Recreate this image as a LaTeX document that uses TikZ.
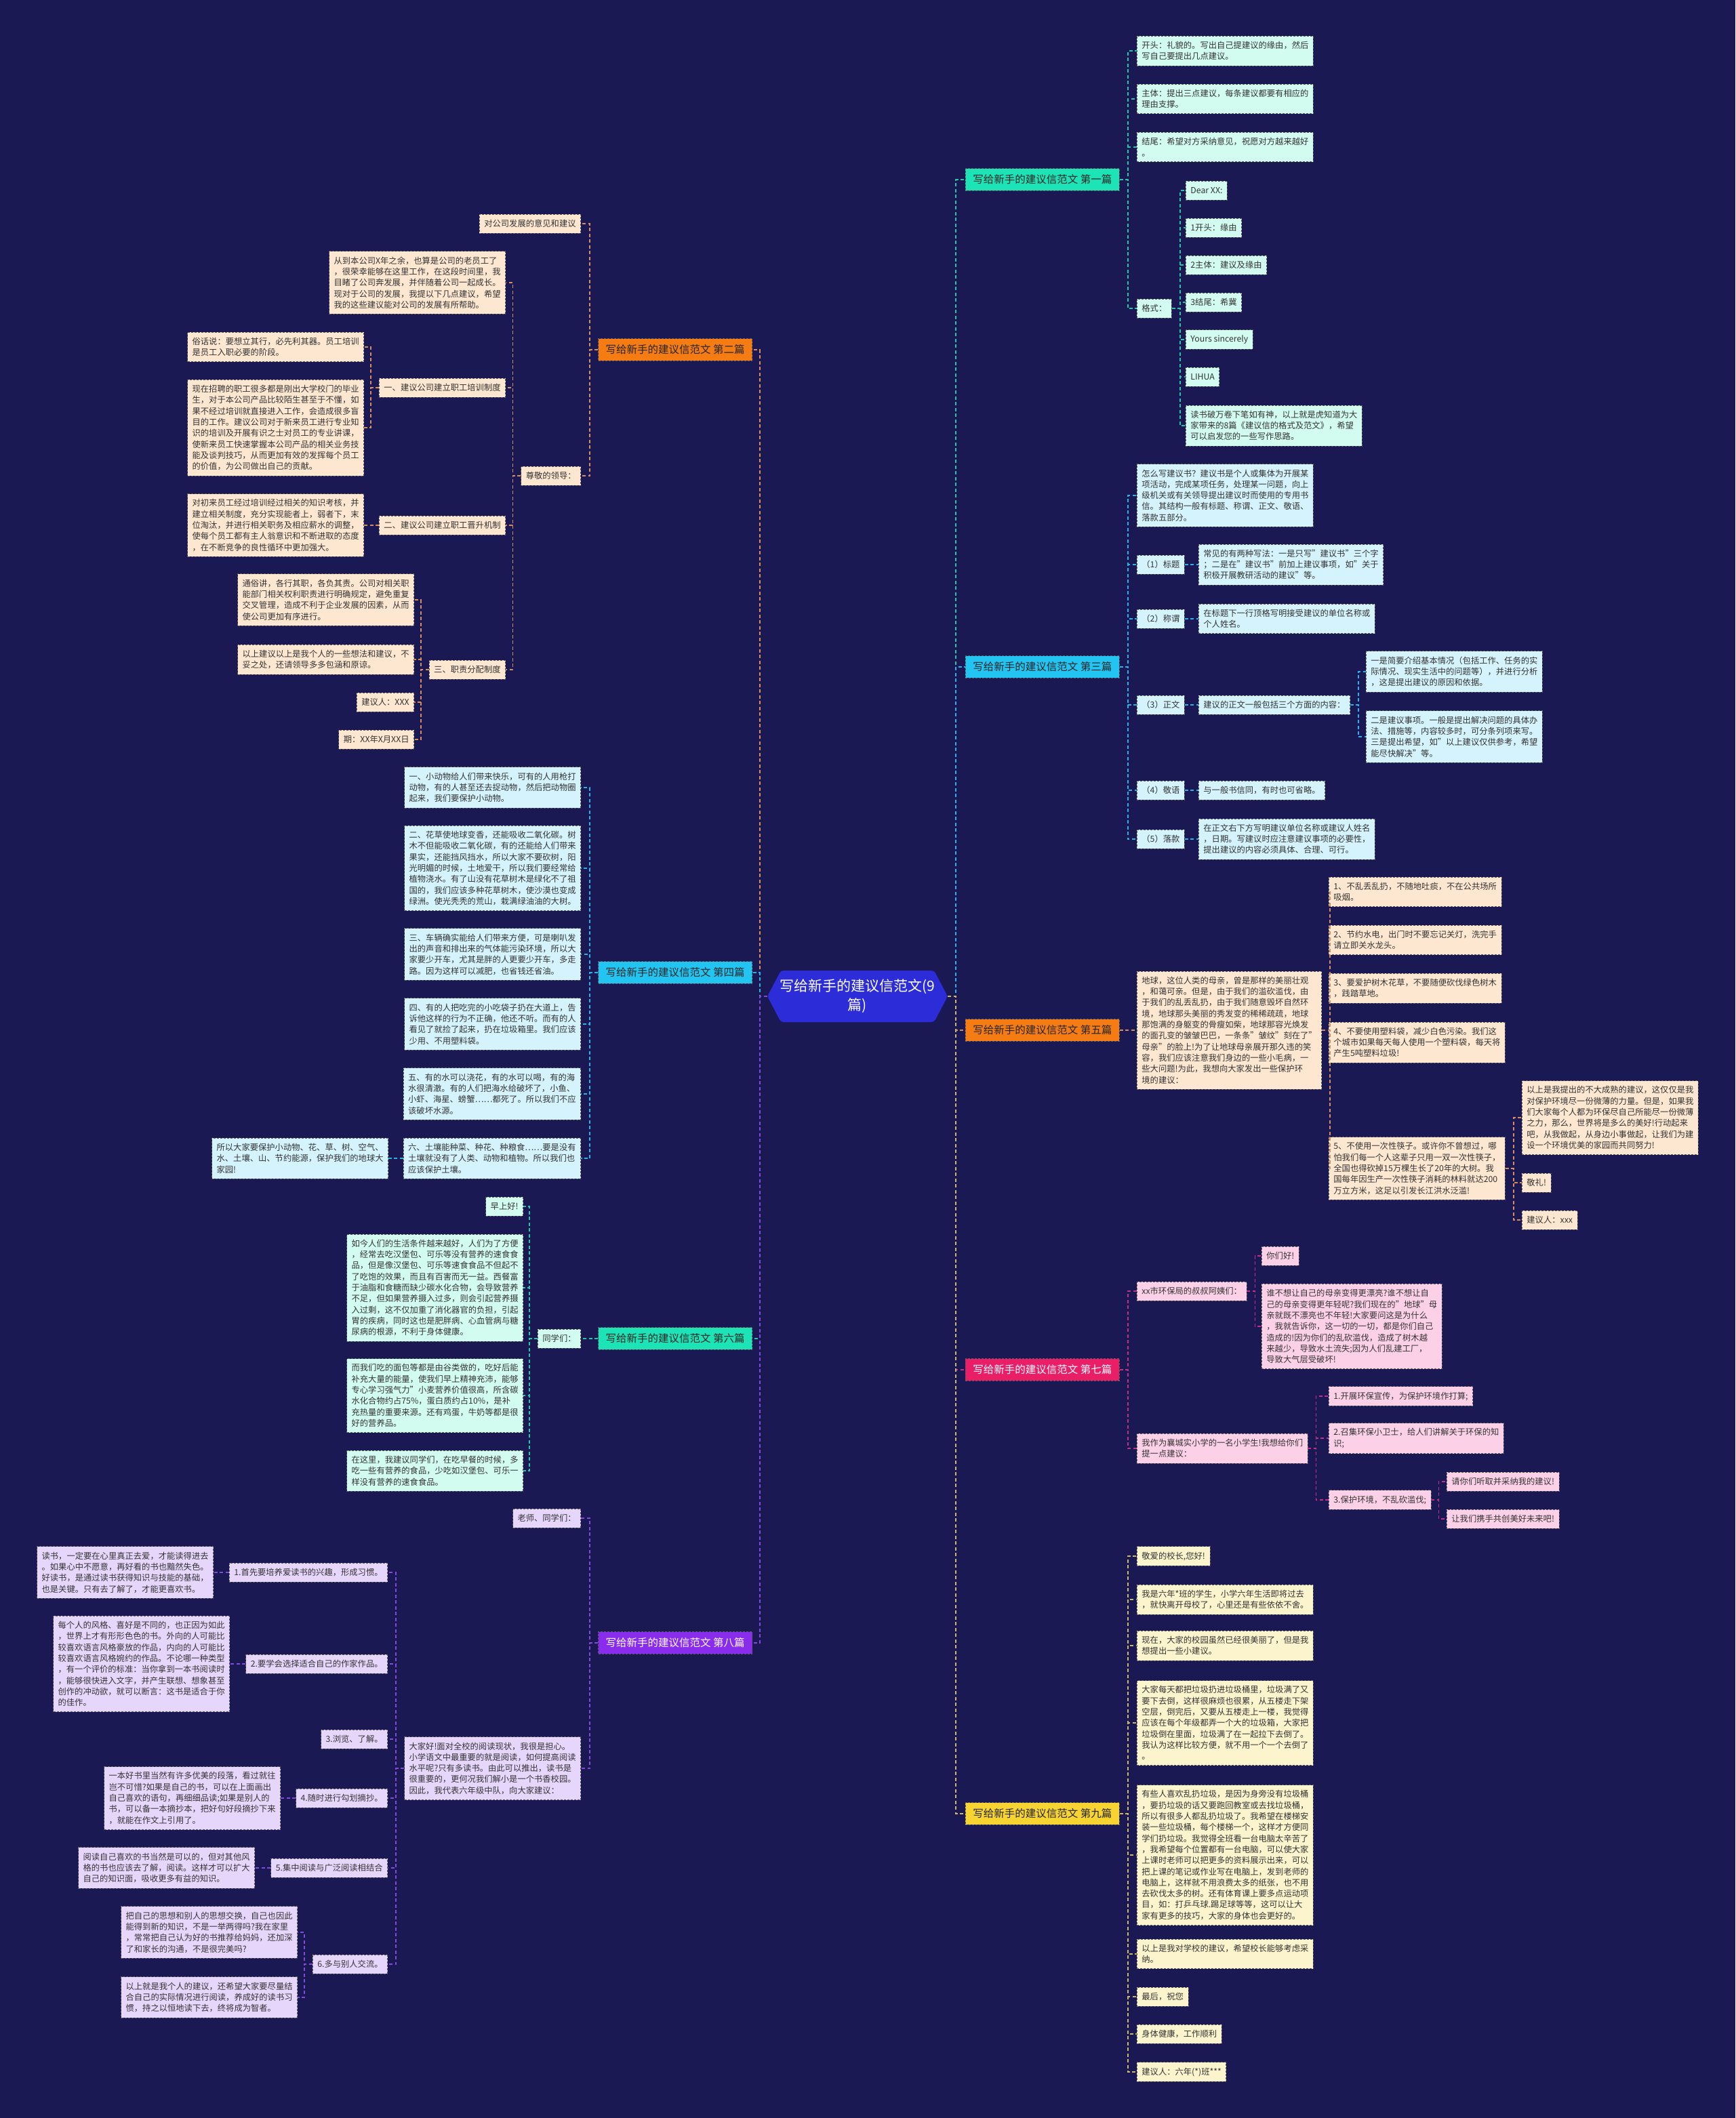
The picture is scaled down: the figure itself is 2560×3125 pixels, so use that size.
\documentclass[tikz,border=0pt]{standalone}
\usepackage{fontspec}
\setmainfont{Noto Sans CJK SC}
\definecolor{bgc}{HTML}{1B1953}
\definecolor{rootc}{HTML}{2C2CD8}
\definecolor{tealB}{HTML}{1DE4B6}\definecolor{tealL}{HTML}{D3FCF1}\definecolor{tealC}{HTML}{25C7A5}
\definecolor{cyanB}{HTML}{22C4F2}\definecolor{cyanL}{HTML}{D4F3FC}\definecolor{cyanC}{HTML}{2CB2EA}
\definecolor{orangeB}{HTML}{F47C12}\definecolor{orangeL}{HTML}{FDE7D1}\definecolor{orangeC}{HTML}{D98C5C}
\definecolor{pinkB}{HTML}{E91E66}\definecolor{pinkL}{HTML}{FCD1E7}\definecolor{pinkC}{HTML}{C23284}
\definecolor{yellowB}{HTML}{F7D432}\definecolor{yellowL}{HTML}{FCF4CD}\definecolor{yellowC}{HTML}{CDB866}
\definecolor{violetB}{HTML}{8A2CEE}\definecolor{violetL}{HTML}{E7D6FC}\definecolor{violetC}{HTML}{8548DC}
\definecolor{boxline}{HTML}{5C5C5C}
\definecolor{leaftext}{HTML}{333333}
\definecolor{branchtext}{HTML}{262626}
\newcommand\leaffont{\fontsize{12.3}{16.3}\selectfont}
\newcommand\branchfont{\fontsize{15.5}{19}\selectfont}
\newcommand\rootfont{\fontsize{21}{28}\selectfont}
\tikzset{
  leafbox/.style={draw=boxline, dash pattern=on 3pt off 2pt, line width=0.8pt, fill=#1, text=leaftext, font=\leaffont, align=left, inner xsep=7pt, inner ysep=8pt, minimum height=28pt},
  branchbox/.style={draw=boxline, dash pattern=on 3pt off 2pt, line width=0.8pt, fill=#1, text=branchtext, font=\branchfont, inner xsep=11pt, inner ysep=9pt},
  linkline/.style={draw=#1, line width=1.7pt, dash pattern=on 5pt off 3.5pt},
  R/.style={anchor=west}, L/.style={anchor=east}
}
\begin{document}
\begin{tikzpicture}[x=1pt, y=-1pt]
\useasboundingbox (0,0) rectangle (2560,3125);
\fill[bgc] (0,0) rectangle (2560,3125);
% centre
\fill[rootc, rounded corners=4pt] (1132,1470) -- (1152,1432) -- (1378,1432) -- (1398,1470) -- (1378,1508) -- (1152,1508) -- cycle;
\node[text=white, font=\rootfont, align=center, minimum width=266pt, minimum height=76pt, inner sep=0pt] (root) at (1265,1470) {写给新手的建议信范文(9\\篇)};

% ---- right: 第一篇
\node[branchbox=tealB, R] (b1) at (1424,265) {写给新手的建议信范文 第一篇};
\node[leafbox=tealL, R] (b1a) at (1677,75) {开头：礼貌的。写出自己提建议的缘由，然后\\写自己要提出几点建议。};
\node[leafbox=tealL, R] (b1b) at (1677,146) {主体：提出三点建议，每条建议都要有相应的\\理由支撑。};
\node[leafbox=tealL, R] (b1c) at (1677,217) {结尾：希望对方采纳意见，祝愿对方越来越好\\。};
\node[leafbox=tealL, R] (b1d) at (1677,455) {格式：};
\node[leafbox=tealL, R] (b1d1) at (1749,281) {Dear XX:};
\node[leafbox=tealL, R] (b1d2) at (1749,336) {1开头：缘由};
\node[leafbox=tealL, R] (b1d3) at (1749,391) {2主体：建议及缘由};
\node[leafbox=tealL, R] (b1d4) at (1749,446) {3结尾：希冀};
\node[leafbox=tealL, R] (b1d5) at (1749,501) {Yours sincerely};
\node[leafbox=tealL, R] (b1d6) at (1749,556) {LIHUA};
\node[leafbox=tealL, R] (b1d7) at (1749,628) {读书破万卷下笔如有神，以上就是虎知道为大\\家带来的8篇《建议信的格式及范文》，希望\\可以启发您的一些写作思路。};

% ---- right: 第三篇
\node[branchbox=cyanB, R] (b3) at (1424,984) {写给新手的建议信范文 第三篇};
\node[leafbox=cyanL, R] (b3a) at (1677,731) {怎么写建议书？建议书是个人或集体为开展某\\项活动，完成某项任务，处理某一问题，向上\\级机关或有关领导提出建议时而使用的专用书\\信。其结构一般有标题、称谓、正文、敬语、\\落款五部分。};
\node[leafbox=cyanL, R] (b3b) at (1677,833) {（1）标题};
\node[leafbox=cyanL, R] (b3b1) at (1768,833) {常见的有两种写法：一是只写"建议书"三个字\\；二是在"建议书"前加上建议事项，如"关于\\积极开展教研活动的建议"等。};
\node[leafbox=cyanL, R] (b3c) at (1677,913) {（2）称谓};
\node[leafbox=cyanL, R] (b3c1) at (1768,913) {在标题下一行顶格写明接受建议的单位名称或\\个人姓名。};
\node[leafbox=cyanL, R] (b3d) at (1677,1040) {（3）正文};
\node[leafbox=cyanL, R] (b3d1) at (1768,1040) {建议的正文一般包括三个方面的内容：};
\node[leafbox=cyanL, R] (b3d1a) at (2015,991) {一是简要介绍基本情况（包括工作、任务的实\\际情况、现实生活中的问题等），并进行分析\\，这是提出建议的原因和依据。};
\node[leafbox=cyanL, R] (b3d1b) at (2015,1087) {二是建议事项。一般是提出解决问题的具体办\\法、措施等，内容较多时，可分条列项来写。\\三是提出希望，如"以上建议仅供参考，希望\\能尽快解决"等。};
\node[leafbox=cyanL, R] (b3e) at (1677,1166) {（4）敬语};
\node[leafbox=cyanL, R] (b3e1) at (1768,1166) {与一般书信同，有时也可省略。};
\node[leafbox=cyanL, R] (b3f) at (1677,1238) {（5）落款};
\node[leafbox=cyanL, R] (b3f1) at (1768,1238) {在正文右下方写明建议单位名称或建议人姓名\\，日期。写建议时应注意建议事项的必要性，\\提出建议的内容必须具体、合理、可行。};

% ---- right: 第五篇
\node[branchbox=orangeB, R] (b5) at (1424,1520) {写给新手的建议信范文 第五篇};
\node[leafbox=orangeL, R] (b5a) at (1677,1520) {地球，这位人类的母亲，曾是那样的美丽壮观\\，和蔼可亲。但是，由于我们的滥砍滥伐，由\\于我们的乱丢乱扔，由于我们随意毁坏自然环\\境，地球那头美丽的秀发变的稀稀疏疏，地球\\那饱满的身躯变的骨瘦如柴，地球那容光焕发\\的面孔变的皱皱巴巴，一条条"皱纹"刻在了"\\母亲"的脸上!为了让地球母亲展开那久违的笑\\容，我们应该注意我们身边的一些小毛病，一\\些大问题!为此，我想向大家发出一些保护环\\境的建议：};
\node[leafbox=orangeL, R] (b5a1) at (1960,1316) {1、不乱丢乱扔，不随地吐痰，不在公共场所\\吸烟。};
\node[leafbox=orangeL, R] (b5a2) at (1960,1387) {2、节约水电，出门时不要忘记关灯，洗完手\\请立即关水龙头。};
\node[leafbox=orangeL, R] (b5a3) at (1960,1458) {3、要爱护树木花草，不要随便砍伐绿色树木\\，践踏草地。};
\node[leafbox=orangeL, R] (b5a4) at (1960,1538) {4、不要使用塑料袋，减少白色污染。我们这\\个城市如果每天每人使用一个塑料袋，每天将\\产生5吨塑料垃圾!};
\node[leafbox=orangeL, R] (b5a5) at (1960,1724) {5、不使用一次性筷子。或许你不曾想过，哪\\怕我们每一个人这辈子只用一双一次性筷子，\\全国也得砍掉15万棵生长了20年的大树。我\\国每年因生产一次性筷子消耗的林料就达200\\万立方米，这足以引发长江洪水泛滥!};
\node[leafbox=orangeL, R] (b5e1) at (2245,1649) {以上是我提出的不大成熟的建议，这仅仅是我\\对保护环境尽一份微薄的力量。但是，如果我\\们大家每个人都为环保尽自己所能尽一份微薄\\之力，那么，世界将是多么的美好!行动起来\\吧，从我做起，从身边小事做起，让我们为建\\设一个环境优美的家园而共同努力!};
\node[leafbox=orangeL, R] (b5e2) at (2245,1745) {敬礼!};
\node[leafbox=orangeL, R] (b5e3) at (2245,1800) {建议人：xxx};

% ---- right: 第七篇
\node[branchbox=pinkB, R, text=white] (b7) at (1424,2021) {写给新手的建议信范文 第七篇};
\node[leafbox=pinkL, R] (b7a) at (1677,1905) {xx市环保局的叔叔阿姨们：};
\node[leafbox=pinkL, R] (b7a1) at (1861,1853) {你们好!};
\node[leafbox=pinkL, R] (b7a2) at (1861,1957) {谁不想让自己的母亲变得更漂亮?谁不想让自\\己的母亲变得更年轻呢?我们现在的"地球"母\\亲就既不漂亮也不年轻!大家要问这是为什么\\，我就告诉你，这一切的一切，都是你们自己\\造成的!因为你们的乱砍滥伐，造成了树木越\\来越少，导致水土流失;因为人们乱建工厂，\\导致大气层受破坏!};
\node[leafbox=pinkL, R] (b7b) at (1677,2137) {我作为襄城实小学的一名小学生!我想给你们\\提一点建议：};
\node[leafbox=pinkL, R] (b7b1) at (1960,2060) {1.开展环保宣传，为保护环境作打算;};
\node[leafbox=pinkL, R] (b7b2) at (1960,2122) {2.召集环保小卫士，给人们讲解关于环保的知\\识;};
\node[leafbox=pinkL, R] (b7b3) at (1960,2213) {3.保护环境，不乱砍滥伐;};
\node[leafbox=pinkL, R] (b7c1) at (2134,2186) {请你们听取并采纳我的建议!};
\node[leafbox=pinkL, R] (b7c2) at (2134,2241) {让我们携手共创美好未来吧!};

% ---- right: 第九篇
\node[branchbox=yellowB, R] (b9) at (1424,2676) {写给新手的建议信范文 第九篇};
\node[leafbox=yellowL, R] (b9a) at (1677,2296) {敬爱的校长,您好!};
\node[leafbox=yellowL, R] (b9b) at (1677,2360) {我是六年*班的学生，小学六年生活即将过去\\，就快离开母校了，心里还是有些依依不舍。};
\node[leafbox=yellowL, R] (b9c) at (1677,2428) {现在，大家的校园虽然已经很美丽了，但是我\\想提出一些小建议。};
\node[leafbox=yellowL, R] (b9d) at (1677,2542) {大家每天都把垃圾扔进垃圾桶里，垃圾满了又\\要下去倒，这样很麻烦也很累，从五楼走下架\\空层，倒完后，又要从五楼走上一楼，我觉得\\应该在每个年级都弄一个大的垃圾箱，大家把\\垃圾倒在里面，垃圾满了在一起拉下去倒了。\\我认为这样比较方便，就不用一个一个去倒了\\。};
\node[leafbox=yellowL, R] (b9e) at (1677,2737) {有些人喜欢乱扔垃圾，是因为身旁没有垃圾桶\\，要扔垃圾的话又要跑回教室或去找垃圾桶，\\所以有很多人都乱扔垃圾了。我希望在楼梯安\\装一些垃圾桶，每个楼梯一个，这样才方便同\\学们扔垃圾。我觉得全班看一台电脑太辛苦了\\，我希望每个位置都有一台电脑，可以使大家\\上课时老师可以把更多的资料展示出来，可以\\把上课的笔记或作业写在电脑上，发到老师的\\电脑上，这样就不用浪费太多的纸张，也不用\\去砍伐太多的树。还有体育课上要多点运动项\\目，如：打乒乓球.踢足球等等，这可以让大\\家有更多的技巧，大家的身体也会更好的。};
\node[leafbox=yellowL, R] (b9f) at (1677,2883) {以上是我对学校的建议，希望校长能够考虑采\\纳。};
\node[leafbox=yellowL, R] (b9g) at (1677,2946) {最后，祝您};
\node[leafbox=yellowL, R] (b9h) at (1677,3001) {身体健康，工作顺利};
\node[leafbox=yellowL, R] (b9i) at (1677,3057) {建议人：六年(*)班***};

% ---- left: 第二篇
\node[branchbox=orangeB, L] (b2) at (1110,516) {写给新手的建议信范文 第二篇};
\node[leafbox=orangeL, L] (b2a) at (857,330) {对公司发展的意见和建议};
\node[leafbox=orangeL, L] (b2b) at (857,702) {尊敬的领导：};
\node[leafbox=orangeL, L] (b2b1) at (746,417) {从到本公司X年之余，也算是公司的老员工了\\，很荣幸能够在这里工作，在这段时间里，我\\目睹了公司奔发展，并伴随着公司一起成长。\\现对于公司的发展，我提以下几点建议，希望\\我的这些建议能对公司的发展有所帮助。};
\node[leafbox=orangeL, L] (b2b2) at (746,572) {一、建议公司建立职工培训制度};
\node[leafbox=orangeL, L] (b2c1) at (537,512) {俗话说：要想立其行，必先利其器。员工培训\\是员工入职必要的阶段。};
\node[leafbox=orangeL, L] (b2c2) at (537,631) {现在招聘的职工很多都是刚出大学校门的毕业\\生，对于本公司产品比较陌生甚至于不懂，如\\果不经过培训就直接进入工作，会造成很多盲\\目的工作。建议公司对于新来员工进行专业知\\识的培训及开展有识之士对员工的专业讲课，\\使新来员工快速掌握本公司产品的相关业务技\\能及谈判技巧，从而更加有效的发挥每个员工\\的价值，为公司做出自己的贡献。};
\node[leafbox=orangeL, L] (b2b3) at (746,775) {二、建议公司建立职工晋升机制};
\node[leafbox=orangeL, L] (b2d1) at (537,775) {对初来员工经过培训经过相关的知识考核，并\\建立相关制度，充分实现能者上，弱者下，末\\位淘汰，并进行相关职务及相应薪水的调整，\\使每个员工都有主人翁意识和不断进取的态度\\，在不断竞争的良性循环中更加强大。};
\node[leafbox=orangeL, L] (b2b4) at (746,988) {三、职责分配制度};
\node[leafbox=orangeL, L] (b2e1) at (611,885) {通俗讲，各行其职，各负其责。公司对相关职\\能部门相关权利职责进行明确规定，避免重复\\交叉管理，造成不利于企业发展的因素，从而\\使公司更加有序进行。};
\node[leafbox=orangeL, L] (b2e2) at (611,973) {以上建议以上是我个人的一些想法和建议，不\\妥之处，还请领导多多包涵和原谅。};
\node[leafbox=orangeL, L] (b2e3) at (611,1036) {建议人：XXX};
\node[leafbox=orangeL, L] (b2e4) at (611,1091) {期：XX年X月XX日};

% ---- left: 第四篇
\node[branchbox=cyanB, L] (b4) at (1110,1435) {写给新手的建议信范文 第四篇};
\node[leafbox=cyanL, L] (b4a) at (857,1162) {一、小动物给人们带来快乐，可有的人用枪打\\动物，有的人甚至还去捉动物，然后把动物圈\\起来，我们要保护小动物。};
\node[leafbox=cyanL, L] (b4b) at (857,1281) {二、花草使地球变香，还能吸收二氧化碳。树\\木不但能吸收二氧化碳，有的还能给人们带来\\果实，还能挡风挡水，所以大家不要砍树，阳\\光明媚的时候，土地爱干，所以我们要经常给\\植物浇水。有了山没有花草树木是绿化不了祖\\国的，我们应该多种花草树木，使沙漠也变成\\绿洲。使光秃秃的荒山，栽满绿油油的大树。};
\node[leafbox=cyanL, L] (b4c) at (857,1408) {三、车辆确实能给人们带来方便，可是喇叭发\\出的声音和排出来的气体能污染环境，所以大\\家要少开车，尤其是胖的人更要少开车，多走\\路。因为这样可以减肥，也省钱还省油。};
\node[leafbox=cyanL, L] (b4d) at (857,1511) {四、有的人把吃完的小吃袋子扔在大道上，告\\诉他这样的行为不正确，他还不听。而有的人\\看见了就捡了起来，扔在垃圾箱里。我们应该\\少用、不用塑料袋。};
\node[leafbox=cyanL, L] (b4e) at (857,1614) {五、有的水可以浇花，有的水可以喝，有的海\\水很清澈。有的人们把海水给破坏了，小鱼、\\小虾、海星、螃蟹……都死了。所以我们不应\\该破坏水源。};
\node[leafbox=cyanL, L] (b4f) at (857,1709) {六、土壤能种菜、种花、种粮食……要是没有\\土壤就没有了人类、动物和植物。所以我们也\\应该保护土壤。};
\node[leafbox=cyanL, L] (b4g) at (573,1709) {所以大家要保护小动物、花、草、树、空气、\\水、土壤、山、节约能源，保护我们的地球大\\家园!};

% ---- left: 第六篇
\node[branchbox=tealB, L] (b6) at (1110,1975) {写给新手的建议信范文 第六篇};
\node[leafbox=tealL, L] (b6a) at (857,1975) {同学们：};
\node[leafbox=tealL, L] (b6a1) at (772,1780) {早上好!};
\node[leafbox=tealL, L] (b6a2) at (772,1900) {如今人们的生活条件越来越好，人们为了方便\\，经常去吃汉堡包、可乐等没有营养的速食食\\品，但是像汉堡包、可乐等速食食品不但起不\\了吃饱的效果，而且有百害而无一益。西餐富\\于油脂和食糖而缺少碳水化合物，会导致营养\\不足，但如果营养摄入过多，则会引起营养摄\\入过剩，这不仅加重了消化器官的负担，引起\\胃的疾病，同时这也是肥胖病、心血管病与糖\\尿病的根源，不利于身体健康。};
\node[leafbox=tealL, L] (b6a3) at (772,2059) {而我们吃的面包等都是由谷类做的，吃好后能\\补充大量的能量，使我们早上精神充沛，能够\\专心学习强气力"小麦营养价值很高，所含碳\\水化合物约占75\%，蛋白质约占10\%，是补\\充热量的重要来源。还有鸡蛋，牛奶等都是很\\好的营养品。};
\node[leafbox=tealL, L] (b6a4) at (772,2170) {在这里，我建议同学们，在吃早餐的时候，多\\吃一些有营养的食品，少吃如汉堡包、可乐一\\样没有营养的速食食品。};

% ---- left: 第八篇
\node[branchbox=violetB, L, text=white] (b8) at (1110,2424) {写给新手的建议信范文 第八篇};
\node[leafbox=violetL, L] (b8a) at (857,2240) {老师、同学们：};
\node[leafbox=violetL, L] (b8b) at (857,2609) {大家好!面对全校的阅读现状，我很是担心。\\小学语文中最重要的就是阅读，如何提高阅读\\水平呢?只有多读书。由此可以推出，读书是\\很重要的，更何况我们解小是一个书香校园。\\因此，我代表六年级中队，向大家建议：};
\node[leafbox=violetL, L] (b8b1) at (572,2320) {1.首先要培养爱读书的兴趣，形成习惯。};
\node[leafbox=violetL, L] (b8c1) at (315,2320) {读书，一定要在心里真正去爱，才能读得进去\\。如果心中不愿意，再好看的书也黯然失色。\\好读书，是通过读书获得知识与技能的基础，\\也是关键。只有去了解了，才能更喜欢书。};
\node[leafbox=violetL, L] (b8b2) at (572,2455) {2.要学会选择适合自己的作家作品。};
\node[leafbox=violetL, L] (b8c2) at (339,2455) {每个人的风格、喜好是不同的，也正因为如此\\，世界上才有形形色色的书。外向的人可能比\\较喜欢语言风格豪放的作品，内向的人可能比\\较喜欢语言风格婉约的作品。不论哪一种类型\\，有一个评价的标准：当你拿到一本书阅读时\\，能够很快进入文字，并产生联想、想象甚至\\创作的冲动欲，就可以断言：这书是适合于你\\的佳作。};
\node[leafbox=violetL, L] (b8b3) at (572,2566) {3.浏览、了解。};
\node[leafbox=violetL, L] (b8b4) at (572,2653) {4.随时进行勾划摘抄。};
\node[leafbox=violetL, L] (b8c4) at (414,2653) {一本好书里当然有许多优美的段落，看过就往\\岂不可惜?如果是自己的书，可以在上面画出\\自己喜欢的语句，再细细品读;如果是别人的\\书，可以备一本摘抄本，把好句好段摘抄下来\\，就能在作文上引用了。};
\node[leafbox=violetL, L] (b8b5) at (572,2756) {5.集中阅读与广泛阅读相结合};
\node[leafbox=violetL, L] (b8c5) at (376,2756) {阅读自己喜欢的书当然是可以的，但对其他风\\格的书也应该去了解，阅读。这样才可以扩大\\自己的知识面，吸收更多有益的知识。};
\node[leafbox=violetL, L] (b8b6) at (572,2898) {6.多与别人交流。};
\node[leafbox=violetL, L] (b8f1) at (439,2851) {把自己的思想和别人的思想交换，自己也因此\\能得到新的知识，不是一举两得吗?我在家里\\，常常把自己认为好的书推荐给妈妈，还加深\\了和家长的沟通，不是很完美吗?};
\node[leafbox=violetL, L] (b8f2) at (439,2947) {以上就是我个人的建议，还希望大家要尽量结\\合自己的实际情况进行阅读，养成好的读书习\\惯，持之以恒地读下去，终将成为智者。};

% ---- connectors
\foreach \b/\c in {b2/orangeC,b4/cyanC,b6/tealC,b8/violetC} \draw[linkline=\c] (root.west) -- ++(-11,0) |- (\b.east);
\foreach \b/\c in {b1/tealC,b3/cyanC,b5/orangeC,b7/pinkC,b9/yellowC} \draw[linkline=\c] (root.east) -- ++(12,0) |- (\b.west);
\foreach \c in {a,b,c,d} \draw[linkline=tealC] (b1.east) -- ++(12,0) |- (b1\c.west);
\foreach \i in {1,...,7} \draw[linkline=tealC] (b1d.east) -- ++(12,0) |- (b1d\i.west);
\foreach \c in {a,b,c,d,e,f} \draw[linkline=cyanC] (b3.east) -- ++(12,0) |- (b3\c.west);
\foreach \c in {b,c,d,e,f} \draw[linkline=cyanC] (b3\c.east) -- (b3\c1.west);
\foreach \c in {a,b} \draw[linkline=cyanC] (b3d1.east) -- ++(12,0) |- (b3d1\c.west);
\draw[linkline=orangeC] (b5.east) -- (b5a.west);
\foreach \i in {1,...,5} \draw[linkline=orangeC] (b5a.east) -- ++(12,0) |- (b5a\i.west);
\foreach \i in {1,2,3} \draw[linkline=orangeC] (b5a5.east) -- ++(12,0) |- (b5e\i.west);
\foreach \c in {a,b} \draw[linkline=pinkC] (b7.east) -- ++(12,0) |- (b7\c.west);
\foreach \i in {1,2} \draw[linkline=pinkC] (b7a.east) -- ++(12,0) |- (b7a\i.west);
\foreach \i in {1,2,3} \draw[linkline=pinkC] (b7b.east) -- ++(12,0) |- (b7b\i.west);
\foreach \i in {1,2} \draw[linkline=pinkC] (b7b3.east) -- ++(11,0) |- (b7c\i.west);
\foreach \c in {a,...,i} \draw[linkline=yellowC] (b9.east) -- ++(12,0) |- (b9\c.west);
\foreach \c in {a,b} \draw[linkline=orangeC] (b2.west) -- ++(-12,0) |- (b2\c.east);
\foreach \i in {1,...,4} \draw[linkline=orangeC] (b2b.west) -- ++(-12,0) |- (b2b\i.east);
\foreach \i in {1,2} \draw[linkline=orangeC] (b2b2.west) -- ++(-12,0) |- (b2c\i.east);
\draw[linkline=orangeC] (b2b3.west) -- (b2d1.east);
\foreach \i in {1,...,4} \draw[linkline=orangeC] (b2b4.west) -- ++(-12,0) |- (b2e\i.east);
\foreach \c in {a,...,f} \draw[linkline=cyanC] (b4.west) -- ++(-12,0) |- (b4\c.east);
\draw[linkline=cyanC] (b4f.west) -- (b4g.east);
\draw[linkline=tealC] (b6.west) -- (b6a.east);
\foreach \i in {1,...,4} \draw[linkline=tealC] (b6a.west) -- ++(-12,0) |- (b6a\i.east);
\foreach \c in {a,b} \draw[linkline=violetC] (b8.west) -- ++(-12,0) |- (b8\c.east);
\foreach \i in {1,...,6} \draw[linkline=violetC] (b8b.west) -- ++(-12,0) |- (b8b\i.east);
\foreach \i in {1,2,4,5} \draw[linkline=violetC] (b8b\i.west) -- ++(-12,0) |- (b8c\i.east);
\foreach \i in {1,2} \draw[linkline=violetC] (b8b6.west) -- ++(-12,0) |- (b8f\i.east);
\end{tikzpicture}
\end{document}
